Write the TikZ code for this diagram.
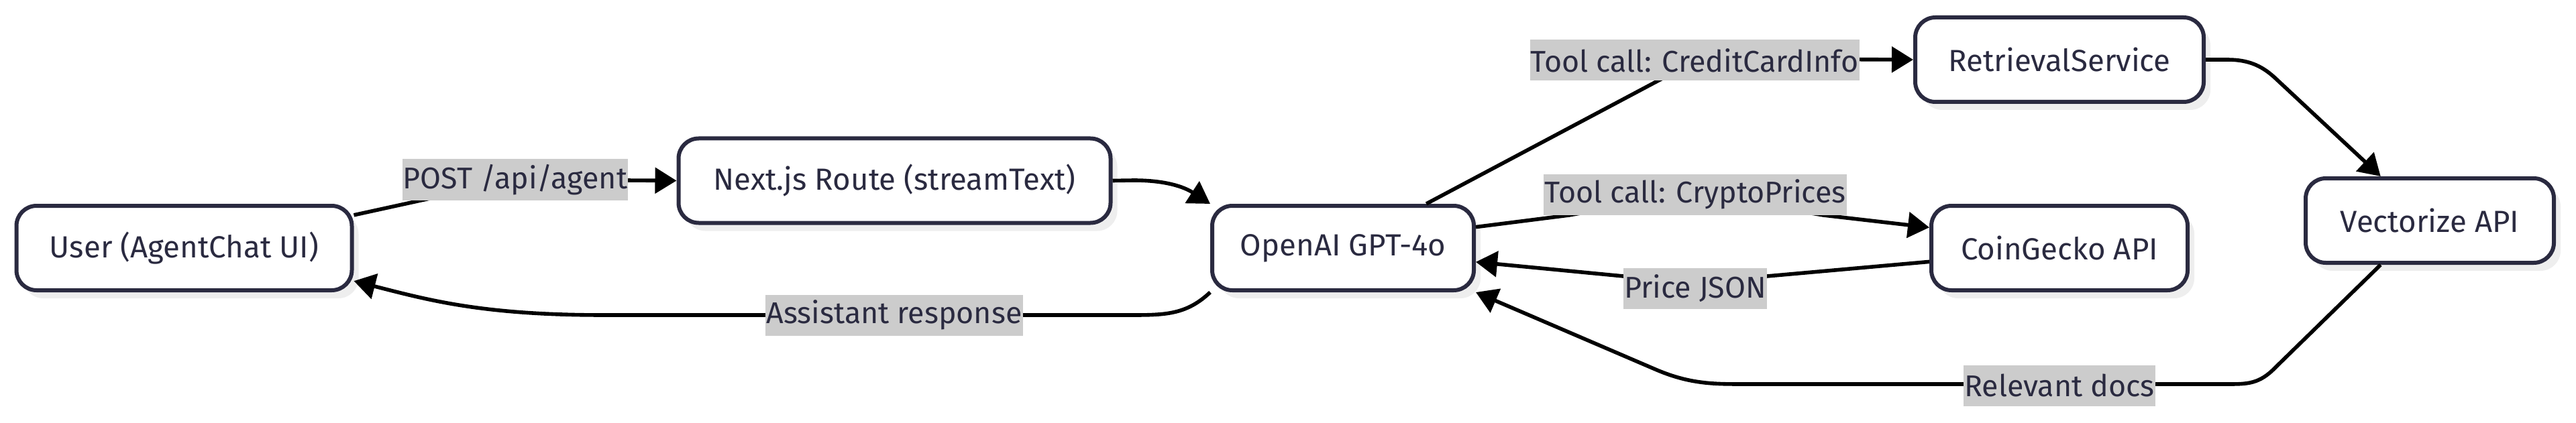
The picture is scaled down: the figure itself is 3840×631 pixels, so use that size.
\documentclass[tikz,border=0pt]{standalone}
\usepackage{fontspec}
\setmainfont{Fira Sans}
\usetikzlibrary{arrows.meta,shadows,calc}
\definecolor{ink}{HTML}{2A2A40}
\definecolor{lblbg}{HTML}{CCCCCC}
\definecolor{shade}{HTML}{EEEEEE}
\tikzset{
  box/.style={draw=ink, line width=1.5pt, rounded corners=7.5pt, fill=white, text=ink,
    minimum height=31.5pt, inner sep=0pt, font=\fontsize{11.4}{13}\selectfont,
    drop shadow={shadow xshift=2.5pt, shadow yshift=-3pt, fill=shade, opacity=1}},
  lbl/.style={fill=lblbg, text=ink, inner xsep=0.3pt, inner ysep=0pt, minimum height=15.25pt,
    font=\fontsize{11.2}{13}\selectfont},
  edge/.style={draw=black, line width=1.4pt, -{Triangle[length=8pt,width=9.5pt]}}
}
\begin{document}
\begin{tikzpicture}[x=0.25pt, y=-0.25pt]
\useasboundingbox (0,0) rectangle (3840,631);
% nodes
\node[box, minimum width=125pt] (user) at (274.5,370) {User (AgentChat UI)};
\node[box, minimum width=161pt] (next) at (1333.5,269.5) {Next.js Route (streamText)};
\node[box, minimum width=97.5pt] (openai) at (2002,370) {OpenAI GPT-4o};
\node[box, minimum width=107.5pt] (retr) at (3070,89) {RetrievalService};
\node[box, minimum width=95.5pt] (coin) at (3070,370) {CoinGecko API};
\node[box, minimum width=92.5pt] (vec) at (3622,329) {Vectorize API};
% edges
\draw[edge] (user.11) -- (650,294) .. controls (700,270) .. (780,268) -- (next.west);
\draw[edge] (next.east) -- (1690,269) .. controls (1745,269) and (1770,282) .. (openai.north west);
\draw[edge] (openai.south west) .. controls (1770,468) and (1740,470) .. (1690,470) -- (900,470)
  .. controls (720,470) and (640,448) .. (user.-11);
\draw[edge] (openai.28) -- (2480,116) .. controls (2530,90) .. (2590,88) -- (retr.west);
\draw[edge] (openai.9) -- (2339,321) .. controls (2450,300) and (2600,300) .. (2718,321) -- (coin.171);
\draw[edge] (coin.186) -- (2634,412) .. controls (2527,428) .. (2420,412) -- (openai.-6);
\draw[edge] (retr.east) -- (3320,89) .. controls (3350,89) and (3370,97) .. (3390,115) -- (vec.138);
\draw[edge] (vec.222) -- (3392,548) .. controls (3368,573) and (3350,573) .. (3320,573) -- (2600,573)
  .. controls (2555,573) and (2520,573) .. (2470,552) -- (openai.south east);
% labels
\node[lbl] (l1) at (768,268) {POST /api/agent};
\node[lbl] (l2) at (1333,470) {Assistant response};
\node[lbl] (l3) at (2526,90) {Tool call: CreditCardInfo};
\node[lbl] (l4) at (2527,290) {Tool call: CryptoPrices};
\node[lbl] (l5) at (2527,430) {Price JSON};
\node[lbl] (l6) at (3070,575) {Relevant docs};
\end{tikzpicture}
\end{document}
